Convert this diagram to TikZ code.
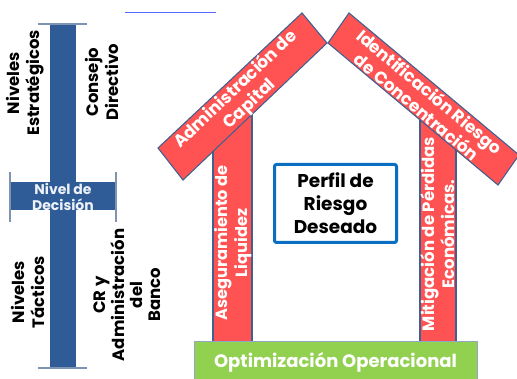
\documentclass[tikz,border=0pt]{standalone}
\usepackage{fontspec}
\setmainfont{Poppins}
\definecolor{barblue}{HTML}{2F5C97}
\definecolor{capline}{HTML}{7F93B5}
\definecolor{roofred}{HTML}{FF5353}
\definecolor{edgeblue}{HTML}{41608F}
\definecolor{basegreen}{HTML}{92D050}
\definecolor{baseedge}{HTML}{8FA8C8}
\definecolor{perfilblue}{HTML}{0A6FC2}
\definecolor{linkblue}{HTML}{5468FF}
\begin{document}
\begin{tikzpicture}[x=1pt,y=-1pt,
  beam/.style={fill=roofred,draw=edgeblue,line width=1.1pt},
  wtext/.style={text=white,font=\bfseries\fontsize{17}{20}\selectfont,align=center,inner sep=0pt},
  btext/.style={text=black,font=\bfseries\fontsize{16.5}{20}\selectfont,align=center,inner sep=0pt},
  capl/.style={draw=capline,line width=1.3pt}]
\useasboundingbox (0,0) rectangle (517,379);
% link line
\coordinate (la) at (125,12); \coordinate (lb) at (216,12);
\draw[linkblue,line width=0.9pt] (la) -- (lb);
% left scale
\fill[barblue] (50,24) rectangle (76,368);
\fill[barblue] (10,182) rectangle (116,210);
\coordinate (t1) at (38,24); \coordinate (t2) at (87,24);
\coordinate (b1) at (38,368); \coordinate (b2) at (87,368);
\draw[capl] (t1) -- (t2);
\draw[capl] (b1) -- (b2);
\coordinate (k1) at (10,172); \coordinate (k2) at (10,222);
\coordinate (k3) at (116,172); \coordinate (k4) at (116,222);
\draw[capl] (k1) -- (k2);
\draw[capl] (k3) -- (k4);
\node[text=white!92!barblue,font=\bfseries\fontsize{14}{16}\selectfont,align=center,inner sep=0pt] (dec) at (63,197) {Nivel de\\Decisión};
\node[btext,rotate=90] (estr) at (25,83) {Niveles\\Estratégicos};
\node[btext,rotate=90] (cons) at (102,82) {Consejo\\Directivo};
\node[btext,rotate=90] (tact) at (28,292) {Niveles\\Tácticos};
\node[btext,rotate=90,font=\bfseries\fontsize{16.5}{17.7}\selectfont] (cr) at (127,295) {CR y\\Administración\\del\\Banco};
% pillars
\draw[beam] (213,100) rectangle (252,342);
\draw[beam] (420,115) rectangle (456,342);
\node[wtext,rotate=90,font=\bfseries\fontsize{16.2}{20}\selectfont] (liq) at (233,243) {Aseguramiento de\\Liquidez};
\node[wtext,rotate=90,font=\bfseries\fontsize{16.5}{20}\selectfont] (mit) at (438,234) {Mitigación de Pérdidas\\Económicas.};
% roof
\draw[beam] (158,148) -- (302,13) -- (327,43) -- (183,180) -- cycle;
\draw[beam] (328,43) -- (349,13) -- (519,155) -- (498,185) -- cycle;
\node[wtext,rotate=43.4] (cap) at (242.5,97) {Administración de\\Capital};
\node[wtext,rotate=-39.9] (conc) at (423.5,99) {Identificación Riesgo\\de Concentración};
% base
\draw[fill=basegreen,draw=baseedge,line width=1pt] (194,342) rectangle (477,390);
\node[text=white,font=\bfseries\fontsize{18}{20}\selectfont,inner sep=0pt] (opt) at (335.5,362) {Optimización Operacional};
% perfil
\node[draw=perfilblue,line width=3pt,rounded corners=2pt,minimum width=122pt,minimum height=78pt,inner sep=0pt,
  font=\bfseries\fontsize{18.5}{23}\selectfont,align=center] (perf) at (335.5,203.5) {Perfil de\\Riesgo\\Deseado};
\end{tikzpicture}
\end{document}
